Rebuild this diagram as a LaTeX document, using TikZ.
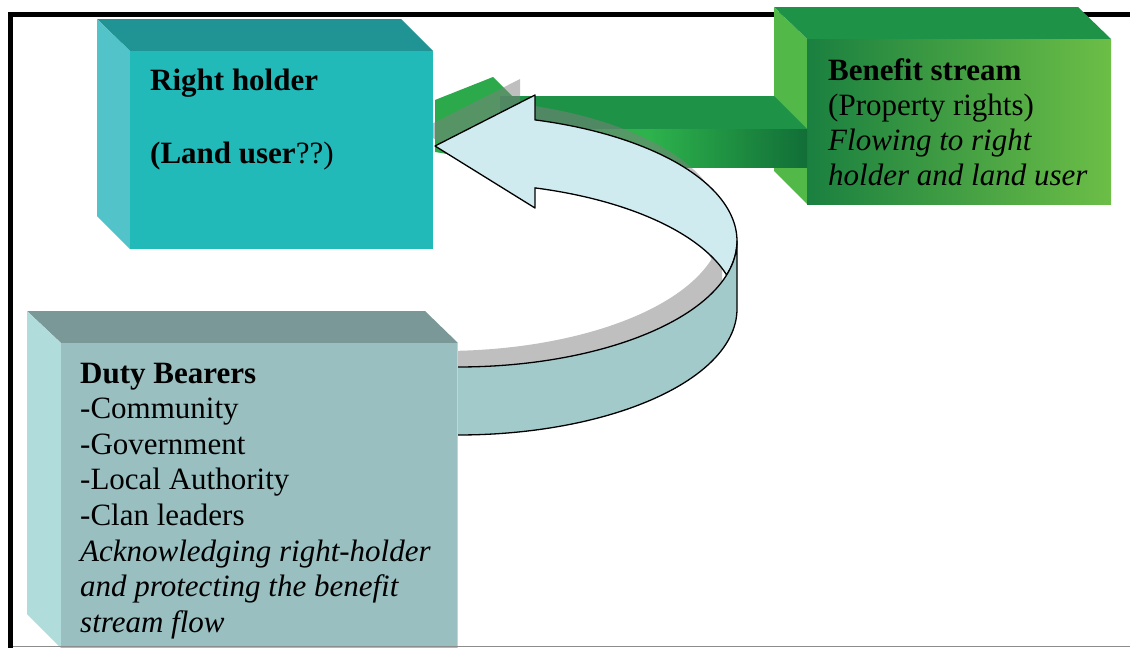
\documentclass[tikz,border=0pt]{standalone}
\usepackage{fontspec}
\setmainfont{Liberation Serif}
\definecolor{rhFront}{RGB}{34,185,185}
\definecolor{rhTop}{RGB}{32,148,148}
\definecolor{rhLeft}{RGB}{82,195,200}
\definecolor{gTop}{RGB}{30,146,71}
\definecolor{gLeft}{RGB}{82,184,72}
\definecolor{gDark}{RGB}{26,128,64}
\definecolor{gBright}{RGB}{45,178,76}
\definecolor{gLight}{RGB}{108,190,70}
\definecolor{gDeep}{RGB}{17,110,55}
\definecolor{gHead}{RGB}{44,170,75}
\definecolor{arLight}{RGB}{208,235,240}
\definecolor{arTeal}{RGB}{163,202,202}
\definecolor{dFront}{RGB}{153,191,192}
\definecolor{dTop}{RGB}{122,152,151}
\definecolor{dLeft}{RGB}{176,220,220}
\begin{document}
\begin{tikzpicture}[x=1pt,y=-1pt,
  txt/.style={inner sep=0pt, anchor=base west, font=\fontsize{31}{35.6}\selectfont},
  outl/.style={draw=black, line width=1.3pt, line join=round}]
\useasboundingbox (0,0) rectangle (1130,648);
\fill[white] (0,0) rectangle (1130,648);
% frame
\draw[line width=5.5pt, line join=miter] (10.3,648) -- (10.3,14.3) -- (1130,14.3);
% benefit box
\fill[gTop] (774,7) -- (1078,7) -- (1111,39) -- (807,39) -- cycle;
\fill[gLeft] (774,7) -- (807,39) -- (807,204) -- (774,171) -- cycle;
\shade[left color=gDark, middle color=gBright, right color=gLight] (807,39) rectangle (1111,204);
% green stream (block arrow)
\fill[gHead] (435,100) -- (493,77) -- (512,96) -- (545,96) -- (545,170) -- (435,152) -- cycle;
\fill[gTop] (500,96) -- (774,96) -- (807,129) -- (500,129) -- cycle;
\fill[gBright] (500,129) rectangle (650,167);
\shade[left color=gBright, right color=gDeep] (650,129) rectangle (807,167);
% shadow of the curved arrow
\fill[black!50, opacity=0.5, shift={(-15,-16)}]
  (535,120) -- plot[domain=74:0, samples=50] ({458+279*cos(\x)},{241-126*sin(\x)})
  -- plot[domain=0:-97, samples=50] ({458+279*cos(\x)},{309-126*sin(\x)})
  -- plot[domain=-97:-15.7, samples=50] ({458+279*cos(\x)},{241-126*sin(\x)})
  -- plot[domain=15.7:74, samples=50] ({458+279*cos(\x)},{309-126*sin(\x)})
  -- (535,208) -- (435,146) -- (535,95) -- cycle;
% curved arrow: inner (back) surface with head
\filldraw[fill=arLight, outl]
  (535,120) -- plot[domain=74:-15.7, samples=60] ({458+279*cos(\x)},{241-126*sin(\x)})
  -- plot[domain=15.7:74, samples=50] ({458+279*cos(\x)},{309-126*sin(\x)})
  -- (535,208) -- (435,146) -- (535,95) -- cycle;
% curved arrow: outer (front) surface
\filldraw[fill=arTeal, outl]
  plot[domain=0:-97, samples=60] ({458+279*cos(\x)},{241-126*sin(\x)})
  -- plot[domain=-97:0, samples=60] ({458+279*cos(\x)},{309-126*sin(\x)})
  -- cycle;
% right holder box
\fill[rhTop] (97,19) -- (401,19) -- (433,51) -- (130,51) -- cycle;
\fill[rhLeft] (97,19) -- (130,51) -- (130,249) -- (97,216) -- cycle;
\fill[rhFront] (130,51) rectangle (433,249);
% duty bearers box
\fill[dTop] (27,311) -- (425,311) -- (458,343) -- (61,343) -- cycle;
\fill[dLeft] (27,311) -- (61,343) -- (61,648) -- (27,614) -- cycle;
\fill[dFront] (61,343) rectangle (458,648);
\draw[dLeft, line width=1pt] (457.5,343) -- (457.5,648);
% bottom line
\draw[black!45, line width=1.2pt] (13,646.4) -- (1130,646.4);
% texts
\node[txt] (rh1) at (150,90) {\bfseries Right holder};
\node[txt] (rh2) at (150,163) {{\bfseries (Land user}??)};
\node[txt] (bs1) at (828,80) {\bfseries Benefit stream};
\node[txt] (bs2) at (828,115) {(Property rights)};
\node[txt] (bs3) at (828,150) {\itshape Flowing to right};
\node[txt] (bs4) at (828,185) {\itshape holder and land user};
\node[txt] (db1) at (80,383) {\bfseries Duty Bearers};
\node[txt] (db2) at (80,418.6) {-Community};
\node[txt] (db3) at (80,454.2) {-Government};
\node[txt] (db4) at (80,489.8) {-Local Authority};
\node[txt] (db5) at (80,525.4) {-Clan leaders};
\node[txt] (db6) at (80,561) {\itshape Acknowledging right-holder};
\node[txt] (db7) at (80,596.6) {\itshape and protecting the benefit};
\node[txt] (db8) at (80,632.2) {\itshape stream flow};
\end{tikzpicture}
\end{document}
